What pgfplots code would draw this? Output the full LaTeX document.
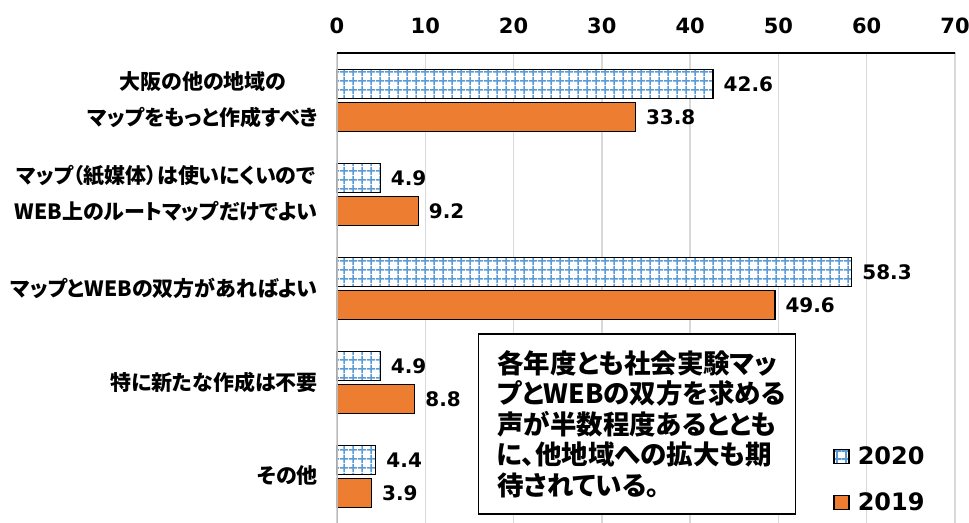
\documentclass[border=0pt]{standalone}
\usepackage{fontspec}
\setmainfont{DejaVu Sans}
\newfontfamily\jp{Noto Sans CJK JP}[RawFeature=+palt]
\usepackage{pgfplots}
\pgfplotsset{compat=1.18}
\usetikzlibrary{patterns}
\definecolor{orange19}{HTML}{ED7D31}
\definecolor{blue20}{HTML}{5B9BD5}
\definecolor{gridgray}{HTML}{D9D9D9}
\pgfdeclarepatternformonly{xlgrid}{\pgfqpoint{0bp}{0bp}}{\pgfqpoint{8.5bp}{8.5bp}}{\pgfqpoint{8.5bp}{8.5bp}}{%
 \pgfsetlinewidth{1.6bp}%
 \pgfpathmoveto{\pgfqpoint{0bp}{4.25bp}}\pgfpathlineto{\pgfqpoint{8.5bp}{4.25bp}}%
 \pgfpathmoveto{\pgfqpoint{4.25bp}{0bp}}\pgfpathlineto{\pgfqpoint{4.25bp}{8.5bp}}%
 \pgfusepath{stroke}}
\pgfplotsset{sqlegend/.style={legend image code/.code={\draw[##1] (0bp,-7bp) rectangle (15bp,7bp);}}}

\begin{document}
\begin{tikzpicture}
\begin{axis}[
 scale only axis, width=618bp, height=470bp,
 xbar, y dir=reverse,
 xmin=0, xmax=70, xtick={0,10,...,70},
 ymin=-0.5, ymax=4.5, ytick={0,...,4},
 yticklabels={{大阪の他の地域の\\マップをもっと作成すべき},
   {マップ（紙媒体）は使いにくいので\\WEB上のルートマップだけでよい},
   {マップとWEBの双方があればよい},
   {特に新たな作成は不要},
   {その他}},
 xticklabel pos=right,
 major tick length=0pt,
 xmajorgrids, grid style={gridgray, line width=1.5bp},
 axis line style={draw=none},
 bar width=0.31,
 /pgf/number format/assume math mode=true,
 x tick label style={font=\bfseries\fontsize{21bp}{24bp}\selectfont, inner sep=0pt, yshift=19bp},
 y tick label style={font=\jp\bfseries\fontsize{21bp}{36bp}\selectfont, align=center, inner sep=0pt, xshift=-19bp},
 nodes near coords,
 nodes near coords style={font=\bfseries\fontsize{20bp}{22bp}\selectfont, anchor=west, inner sep=0pt, xshift=10bp, black,
   /pgf/number format/.cd, fixed, fixed zerofill, precision=1, assume math mode=true},
 legend style={at={(axis description cs:0.803,0.163)}, anchor=north west, draw=none, fill=none,
   font=\bfseries\fontsize{24bp}{28bp}\selectfont, row sep=27bp, column sep=8bp, inner sep=0pt, nodes={inner sep=0bp}},
 legend cell align=left,
]
\addplot[draw=black, line width=1.3bp, pattern=xlgrid, pattern color=blue20, preaction={fill=white}, bar shift=-0.17, sqlegend]
  coordinates {(42.6,0) (4.9,1) (58.3,2) (4.9,3) (4.4,4)};
\addplot[draw=black, line width=1.3bp, fill=orange19, bar shift=0.18, sqlegend]
  coordinates {(33.8,0) (9.2,1) (49.6,2) (8.8,3) (3.9,4)};
\legend{2020,2019}
\draw[gray!55, line width=2bp] (axis description cs:0,0) -- (axis description cs:0,1);
\draw[black, line width=1.8bp] (axis description cs:0,1) -- ([xshift=2bp]axis description cs:1,1) -- ([xshift=2bp]axis description cs:1,0);
\node[draw=black, line width=1.5bp, fill=white, anchor=north west, inner sep=0pt, minimum width=317bp, minimum height=180bp] (tb) at (axis description cs:0.228,0.404) {};
\node[anchor=north west, align=left, font=\jp\bfseries\fontsize{26.5bp}{30.5bp}\selectfont, inner sep=0pt] at ([xshift=19bp,yshift=-17bp]tb.north west) {各年度とも社会実験マッ\\プとWEBの双方を求める\\声が半数程度あるととも\\に、他地域への拡大も期\\待されている。};
\end{axis}
\pgfresetboundingbox
\path ([xshift=-337bp]current axis.south west) rectangle ([xshift=14bp,yshift=53bp]current axis.north east);
\end{tikzpicture}
\end{document}
